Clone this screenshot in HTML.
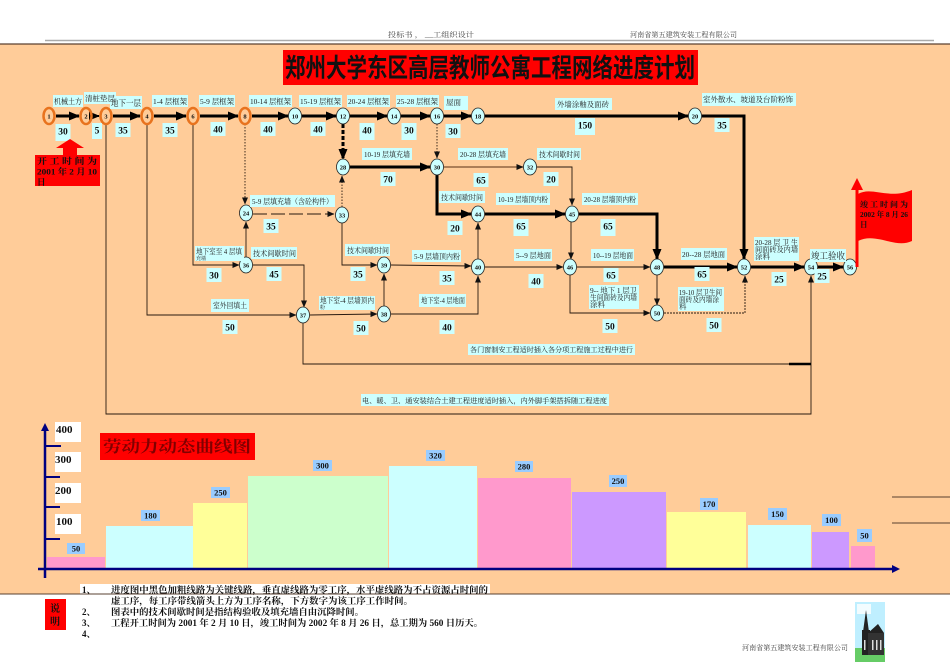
<!DOCTYPE html>
<html><head><meta charset="utf-8"><style>
html,body{margin:0;padding:0;background:#fff;}
svg{display:block;}
</style></head><body>
<svg width="950" height="672" viewBox="0 0 950 672" xmlns="http://www.w3.org/2000/svg">
<defs>
<marker id="A" markerUnits="userSpaceOnUse" markerWidth="11" markerHeight="9" refX="10" refY="4.5" orient="auto"><path d="M0,0L11,4.5L0,9z" fill="#000"/></marker>
<marker id="a" markerUnits="userSpaceOnUse" markerWidth="7" markerHeight="6" refX="6.5" refY="3" orient="auto"><path d="M0,0L7,3L0,6z" fill="#111"/></marker>
</defs>

<!-- header -->
<g font-family="'Liberation Serif','Noto Serif CJK SC',serif" font-size="7" fill="#444">
<text x="388" y="37" textLength="86" lengthAdjust="spacingAndGlyphs">投标书 ，  __工组织设计</text>
<text x="630" y="37" textLength="107" lengthAdjust="spacingAndGlyphs">河南省第五建筑安装工程有限公司</text>
</g>
<line x1="45" y1="40.5" x2="934" y2="40.5" stroke="#aaa" stroke-width="1.5"/>

<!-- orange area -->
<rect x="0" y="44" width="950" height="550" fill="#FFCC99"/>
<line x1="0" y1="44" x2="950" y2="44" stroke="#5a4030" stroke-width="1.2"/>

<!-- title -->
<rect x="283" y="50" width="415" height="35" fill="#FF0000"/>
<text transform="matrix(1,0,0,1.3,0,-23)" x="285" y="77" font-family="'Noto Sans CJK SC','WenQuanYi Zen Hei',sans-serif" font-weight="bold" font-size="20" fill="#111" textLength="410" lengthAdjust="spacingAndGlyphs">郑州大学东区高层教师公寓工程网络进度计划</text>

<!-- ===== thin lines ===== -->
<g fill="none" stroke="#2a1a10" stroke-width="0.9">
<polyline points="106,124 106,414 811,414 811,276" marker-end="url(#a)"/>
<polyline points="303,323 303,364 811,364"/>
<polyline points="147,124 147,315 296,315" marker-end="url(#a)"/>
<polyline points="193,124 193,265 239,265" marker-end="url(#a)"/>
<line x1="246" y1="257" x2="246" y2="222" marker-end="url(#a)"/>
<polyline points="253,265 304,265 304,307" marker-end="url(#a)"/>
<polyline points="342,223 342,265 377,265" marker-end="url(#a)"/>
<line x1="310" y1="315" x2="377" y2="314" marker-end="url(#a)"/>
<line x1="384" y1="306" x2="384" y2="274" marker-end="url(#a)"/>
<polyline points="391,314 478,314 478,276" marker-end="url(#a)"/>
<line x1="391" y1="265" x2="471" y2="266" marker-end="url(#a)"/>
<line x1="478" y1="259" x2="478" y2="223" marker-end="url(#a)"/>
<line x1="485" y1="267" x2="563" y2="267" marker-end="url(#a)"/>
<line x1="571" y1="222" x2="571" y2="259" marker-end="url(#a)"/>
<line x1="577" y1="267" x2="650" y2="267" marker-end="url(#a)"/>
<polyline points="570,275 570,313 650,313" marker-end="url(#a)"/>
<line x1="657" y1="275" x2="657" y2="305" marker-end="url(#a)"/>
<polyline points="664,313 745,313 745,276" marker-end="url(#a)" stroke-dasharray="2,1"/>
<line x1="444" y1="167" x2="523" y2="167" stroke="#7a5030" stroke-width="1.2" marker-end="url(#a)"/>
<polyline points="537,167 572,167 572,205" marker-end="url(#a)"/>
</g>
<g fill="none" stroke="#2a1a10" stroke-width="0.9">
<line x1="245" y1="124" x2="245" y2="204" stroke-dasharray="1.5,1.5" marker-end="url(#a)"/>
<line x1="437" y1="124" x2="437" y2="158" stroke-dasharray="1.5,1.5" marker-end="url(#a)"/>
<line x1="342" y1="207" x2="342" y2="176" stroke-dasharray="1.5,1.5" marker-end="url(#a)"/>
<line x1="253" y1="214" x2="334" y2="214" stroke-dasharray="14,4" marker-end="url(#a)"/>
</g>
<line x1="789" y1="364" x2="811" y2="364" stroke="#000" stroke-width="2.5"/>

<!-- ===== thick lines ===== -->
<g fill="none" stroke="#000" stroke-width="3">
<line x1="56" y1="116" x2="79" y2="116" marker-end="url(#A)"/>
<line x1="93" y1="116" x2="99" y2="116" stroke-width="2" marker-end="url(#A)"/>
<line x1="113" y1="116" x2="140" y2="116" marker-end="url(#A)"/>
<line x1="154" y1="116" x2="186" y2="116" marker-end="url(#A)"/>
<line x1="200" y1="116" x2="238" y2="116" marker-end="url(#A)"/>
<line x1="252" y1="116" x2="288" y2="116" marker-end="url(#A)"/>
<line x1="302" y1="116" x2="336" y2="116" marker-end="url(#A)"/>
<line x1="350" y1="116" x2="387" y2="116" marker-end="url(#A)"/>
<line x1="401" y1="116" x2="430" y2="116" marker-end="url(#A)"/>
<line x1="444" y1="116" x2="471" y2="116" marker-end="url(#A)"/>
<line x1="485" y1="116" x2="688" y2="116" marker-end="url(#A)"/>
<polyline points="702,116 744,116 744,259" marker-end="url(#A)"/>
<line x1="343" y1="124" x2="343" y2="159" stroke-dasharray="4,2" marker-end="url(#A)"/>
<line x1="350" y1="167" x2="430" y2="167" marker-end="url(#A)"/>
<polyline points="437,175 437,214 471,214" marker-end="url(#A)"/>
<line x1="485" y1="214" x2="565" y2="214" marker-end="url(#A)"/>
<polyline points="579,214 657,214 657,259" marker-end="url(#A)"/>
<line x1="664" y1="267" x2="737" y2="267" marker-end="url(#A)"/>
<line x1="751" y1="267" x2="804" y2="267" marker-end="url(#A)"/>
<line x1="818" y1="267" x2="843" y2="267" marker-end="url(#A)"/>
</g>

<!-- ===== nodes ===== -->
<g font-family="'Liberation Serif',serif" font-weight="bold" font-size="6.5" text-anchor="middle" fill="#111">
<g fill="none" stroke="#E8731E" stroke-width="2.5">
<ellipse cx="49" cy="116" rx="5.5" ry="8"/>
<ellipse cx="86" cy="116" rx="5.5" ry="8"/>
<ellipse cx="106" cy="116" rx="5.5" ry="8"/>
<ellipse cx="147" cy="116" rx="5.5" ry="8"/>
<ellipse cx="193" cy="116" rx="5.5" ry="8"/>
<ellipse cx="245" cy="116" rx="5.5" ry="8"/>
</g>
<text x="49" y="118.5">1</text><text x="86" y="118.5">2</text><text x="106" y="118.5">3</text>
<text x="147" y="118.5">4</text><text x="193" y="118.5">6</text><text x="245" y="118.5">8</text>
<g fill="#CCFFFF" stroke="#222" stroke-width="0.8">
<ellipse cx="295" cy="116" rx="6.5" ry="8"/>
<ellipse cx="343" cy="116" rx="6.5" ry="8"/>
<ellipse cx="394" cy="116" rx="6.5" ry="8"/>
<ellipse cx="437" cy="116" rx="6.5" ry="8"/>
<ellipse cx="478" cy="116" rx="6.5" ry="8"/>
<ellipse cx="695" cy="116" rx="6.5" ry="8"/>
<ellipse cx="343" cy="167" rx="6.5" ry="8"/>
<ellipse cx="437" cy="167" rx="6.5" ry="8"/>
<ellipse cx="530" cy="167" rx="6.5" ry="8"/>
<ellipse cx="246" cy="213" rx="6.5" ry="8"/>
<ellipse cx="342" cy="215" rx="6.5" ry="8"/>
<ellipse cx="478" cy="214" rx="6.5" ry="8"/>
<ellipse cx="572" cy="214" rx="6.5" ry="8"/>
<ellipse cx="246" cy="265" rx="6.5" ry="8"/>
<ellipse cx="384" cy="265" rx="6.5" ry="8"/>
<ellipse cx="478" cy="267" rx="6.5" ry="8"/>
<ellipse cx="570" cy="267" rx="6.5" ry="8"/>
<ellipse cx="657" cy="267" rx="6.5" ry="8"/>
<ellipse cx="744" cy="267" rx="6.5" ry="8"/>
<ellipse cx="811" cy="267" rx="6.5" ry="8"/>
<ellipse cx="850" cy="267" rx="6.5" ry="8"/>
<ellipse cx="303" cy="315" rx="6.5" ry="8"/>
<ellipse cx="384" cy="314" rx="6.5" ry="8"/>
<ellipse cx="657" cy="313" rx="6.5" ry="8"/>
</g>
<text x="295" y="118.3">10</text><text x="343" y="118.3">12</text><text x="394" y="118.3">14</text>
<text x="437" y="118.3">16</text><text x="478" y="118.3">18</text><text x="695" y="118.3">20</text>
<text x="343" y="169.3">28</text><text x="437" y="169.3">30</text><text x="530" y="169.3">32</text>
<text x="246" y="215.3">24</text><text x="342" y="217.3">33</text><text x="478" y="216.3">44</text><text x="572" y="216.3">45</text>
<text x="246" y="267.3">36</text><text x="384" y="267.3">39</text><text x="478" y="269.3">40</text>
<text x="570" y="269.3">46</text><text x="657" y="269.3">48</text><text x="744" y="269.3">52</text>
<text x="811" y="269.3">54</text><text x="850" y="269.3">56</text>
<text x="303" y="317.3">37</text><text x="384" y="316.3">38</text><text x="657" y="315.3">50</text>
</g>

<!-- ===== activity labels ===== -->
<g font-family="'Liberation Serif','Noto Serif CJK SC',serif" font-size="7.5" fill="#222">
<g fill="#CCFFFF">
<rect x="53" y="95" width="30" height="12"/>
<rect x="84" y="92" width="32" height="12"/>
<rect x="110" y="96" width="32" height="13"/>
<rect x="152" y="95" width="36" height="12"/>
<rect x="199" y="95" width="36" height="12"/>
<rect x="249" y="95" width="43" height="12"/>
<rect x="299" y="95" width="43" height="12"/>
<rect x="347" y="95" width="43" height="12"/>
<rect x="396" y="95" width="43" height="12"/>
<rect x="444" y="96" width="24" height="14"/>
<rect x="555" y="98" width="57" height="12"/>
<rect x="702" y="93" width="94" height="13"/>
<rect x="362" y="148" width="50" height="12"/>
<rect x="458" y="148" width="50" height="12"/>
<rect x="537" y="148" width="44" height="12"/>
<rect x="439" y="191" width="46" height="12"/>
<rect x="496" y="193" width="54" height="12"/>
<rect x="582" y="193" width="56" height="12"/>
<rect x="250" y="195" width="85" height="12"/>
<rect x="195" y="246" width="49" height="15"/>
<rect x="251" y="247" width="46" height="12"/>
<rect x="345" y="244" width="45" height="12"/>
<rect x="412" y="250" width="49" height="12"/>
<rect x="514" y="249" width="38" height="12"/>
<rect x="591" y="249" width="43" height="12"/>
<rect x="681" y="248" width="46" height="12"/>
<rect x="754" y="237" width="45" height="24"/>
<rect x="810" y="249" width="36" height="13"/>
<rect x="589" y="285" width="50" height="24"/>
<rect x="678" y="287" width="46" height="24"/>
<rect x="211" y="299" width="38" height="13"/>
<rect x="319" y="296" width="56" height="14"/>
<rect x="419" y="294" width="47" height="13"/>
<rect x="468" y="344" width="167" height="11"/>
<rect x="361" y="394" width="248" height="12"/>
</g>
<text x="54" y="104" textLength="28" lengthAdjust="spacingAndGlyphs">机械土方</text>
<text x="85" y="101" textLength="30" lengthAdjust="spacingAndGlyphs">清桩垫层</text>
<text x="111" y="106" font-size="8.5" textLength="30" lengthAdjust="spacingAndGlyphs">地下一层</text>
<text x="153" y="104" textLength="34" lengthAdjust="spacingAndGlyphs">1-4 层框架</text>
<text x="200" y="104" textLength="34" lengthAdjust="spacingAndGlyphs">5-9 层框架</text>
<text x="250" y="104" textLength="41" lengthAdjust="spacingAndGlyphs">10-14 层框架</text>
<text x="300" y="104" textLength="41" lengthAdjust="spacingAndGlyphs">15-19 层框架</text>
<text x="348" y="104" textLength="41" lengthAdjust="spacingAndGlyphs">20-24 层框架</text>
<text x="397" y="104" textLength="41" lengthAdjust="spacingAndGlyphs">25-28 层框架</text>
<text x="446" y="105" textLength="15" lengthAdjust="spacingAndGlyphs">屋面</text>
<text x="557" y="107" textLength="52" lengthAdjust="spacingAndGlyphs">外墙涂釉及面砖</text>
<text x="703" y="102" textLength="90" lengthAdjust="spacingAndGlyphs">室外散水、坡道及台阶粉饰</text>
<text x="364" y="157" textLength="46" lengthAdjust="spacingAndGlyphs">10-19 层填充墙</text>
<text x="460" y="157" textLength="46" lengthAdjust="spacingAndGlyphs">20-28 层填充墙</text>
<text x="539" y="157" textLength="41" lengthAdjust="spacingAndGlyphs">技术间歇时间</text>
<text x="441" y="200" textLength="42" lengthAdjust="spacingAndGlyphs">技术间歇时间</text>
<text x="498" y="202" textLength="50" lengthAdjust="spacingAndGlyphs">10-19 层墙顶内粉</text>
<text x="584" y="202" textLength="52" lengthAdjust="spacingAndGlyphs">20-28 层墙顶内粉</text>
<text x="252" y="204" textLength="81" lengthAdjust="spacingAndGlyphs">5-9 层填充墙（含砼构件）</text>
<text x="196" y="254" textLength="46" lengthAdjust="spacingAndGlyphs">地下室至 4 层填</text>
<text x="196" y="260" font-size="5" textLength="10" lengthAdjust="spacingAndGlyphs">充墙</text>
<text x="253" y="256" textLength="43" lengthAdjust="spacingAndGlyphs">技术间歇时间</text>
<text x="347" y="253" textLength="42" lengthAdjust="spacingAndGlyphs">技术间歇时间</text>
<text x="414" y="259" textLength="46" lengthAdjust="spacingAndGlyphs">5-9 层墙顶内粉</text>
<text x="516" y="258" textLength="35" lengthAdjust="spacingAndGlyphs">5--9 层地面</text>
<text x="593" y="258" textLength="40" lengthAdjust="spacingAndGlyphs">10--19 层地面</text>
<text x="682" y="257" textLength="43" lengthAdjust="spacingAndGlyphs">20--28 层地面</text>
<text x="755" y="245" textLength="43" lengthAdjust="spacingAndGlyphs">20-28 层 卫 生</text>
<text x="755" y="252" textLength="43" lengthAdjust="spacingAndGlyphs">间面砖及内墙</text>
<text x="755" y="259">涂料</text>
<text x="811" y="259" font-size="9" textLength="34" lengthAdjust="spacingAndGlyphs">竣工验收</text>
<text x="590" y="293" textLength="47" lengthAdjust="spacingAndGlyphs">9-- 地下 1 层卫</text>
<text x="590" y="300" textLength="47" lengthAdjust="spacingAndGlyphs">生间面砖及内墙</text>
<text x="590" y="307">涂料</text>
<text x="679" y="295" textLength="43" lengthAdjust="spacingAndGlyphs">19-10 层卫生间</text>
<text x="679" y="302" textLength="40" lengthAdjust="spacingAndGlyphs">面砖及内墙涂</text>
<text x="679" y="309">料</text>
<text x="213" y="308" textLength="34" lengthAdjust="spacingAndGlyphs">室外回填土</text>
<text x="320" y="303" textLength="54" lengthAdjust="spacingAndGlyphs">地下室-4 层墙顶内</text>
<text x="320" y="309" font-size="5">粉</text>
<text x="421" y="303" textLength="44" lengthAdjust="spacingAndGlyphs">地下室-4 层地面</text>
<text x="470" y="352" font-size="7" textLength="163" lengthAdjust="spacingAndGlyphs">各门窗制安工程适时插入各分项工程施工过程中进行</text>
<text x="362" y="403" font-size="7" textLength="245" lengthAdjust="spacingAndGlyphs">电、暖、卫、通安装结合土建工程进度适时插入，内外脚手架搭拆随工程进度</text>
</g>

<!-- ===== durations ===== -->
<g font-family="'Liberation Serif',serif" font-weight="bold" font-size="9.5" text-anchor="middle" fill="#111">
<g fill="#CCFFFF">
<rect x="55.5" y="124" width="15" height="17"/>
<rect x="92" y="123" width="10" height="16"/>
<rect x="115.5" y="123" width="15" height="14"/>
<rect x="162.5" y="123" width="15" height="14"/>
<rect x="210.5" y="122" width="15" height="14"/>
<rect x="260.5" y="122" width="15" height="14"/>
<rect x="310.5" y="122" width="15" height="14"/>
<rect x="359.5" y="123" width="15" height="17"/>
<rect x="401.5" y="123" width="15" height="17"/>
<rect x="445.5" y="124" width="15" height="14"/>
<rect x="575" y="118" width="20" height="17"/>
<rect x="714.5" y="118" width="15" height="14"/>
<rect x="380.5" y="172" width="15" height="14"/>
<rect x="473.5" y="173" width="15" height="14"/>
<rect x="543.5" y="172" width="15" height="14"/>
<rect x="447.5" y="221" width="15" height="14"/>
<rect x="513.5" y="219" width="15" height="17"/>
<rect x="600.5" y="219" width="15" height="17"/>
<rect x="263.5" y="219" width="15" height="14"/>
<rect x="206.5" y="268" width="15" height="14"/>
<rect x="266.5" y="267" width="15" height="14"/>
<rect x="350.5" y="267" width="15" height="14"/>
<rect x="439.5" y="271" width="15" height="14"/>
<rect x="528.5" y="274" width="15" height="14"/>
<rect x="603.5" y="268" width="15" height="14"/>
<rect x="694.5" y="267" width="15" height="14"/>
<rect x="771.5" y="272" width="15" height="14"/>
<rect x="814.5" y="269" width="15" height="14"/>
<rect x="222.5" y="320" width="15" height="14"/>
<rect x="353.5" y="321" width="15" height="14"/>
<rect x="439.5" y="320" width="15" height="14"/>
<rect x="602.5" y="319" width="15" height="14"/>
<rect x="706.5" y="318" width="15" height="14"/>
</g>
<text x="63" y="134.5">30</text>
<text x="97" y="133.5">5</text>
<text x="123" y="133.5">35</text>
<text x="170" y="133.5">35</text>
<text x="218" y="132.5">40</text>
<text x="268" y="132.5">40</text>
<text x="318" y="132.5">40</text>
<text x="367" y="133.5">40</text>
<text x="409" y="133.5">30</text>
<text x="453" y="134.5">30</text>
<text x="585" y="128.5">150</text>
<text x="722" y="128.5">35</text>
<text x="388" y="182.5">70</text>
<text x="481" y="183.5">65</text>
<text x="551" y="182.5">20</text>
<text x="455" y="231.5">20</text>
<text x="521" y="229.5">65</text>
<text x="608" y="229.5">65</text>
<text x="271" y="229.5">35</text>
<text x="214" y="278.5">30</text>
<text x="274" y="277.5">45</text>
<text x="358" y="277.5">35</text>
<text x="447" y="281.5">35</text>
<text x="536" y="284.5">40</text>
<text x="611" y="278.5">65</text>
<text x="702" y="277.5">65</text>
<text x="779" y="282.5">25</text>
<text x="822" y="279.5">25</text>
<text x="230" y="330.5">50</text>
<text x="361" y="331.5">50</text>
<text x="447" y="330.5">40</text>
<text x="610" y="329.5">50</text>
<text x="714" y="328.5">50</text>
</g>

<!-- start arrow + box -->
<polygon points="70,139 56,148 63,148 63,156 77,156 77,148 84,148" fill="#FF0000"/>
<rect x="35" y="155" width="65" height="31" fill="#FF0000"/>
<g font-family="'Liberation Serif','Noto Serif CJK SC',serif" font-weight="bold" font-size="8.5" fill="#111">
<text x="37" y="164" textLength="60" lengthAdjust="spacingAndGlyphs">开 工 时 间 为</text>
<text x="37" y="174.5" textLength="60" lengthAdjust="spacingAndGlyphs">2001 年 2 月 10</text>
<text x="37" y="185">日</text>
</g>

<!-- finish flag -->
<line x1="857" y1="267" x2="857" y2="188" stroke="#FF0000" stroke-width="3"/>
<polygon points="857,178 851,190 863,190" fill="#FF0000"/>
<path d="M858,194 C872,186 888,200 912,190 L912,241 C895,249 876,232 858,241 Z" fill="#FF0000"/>
<g font-family="'Liberation Serif','Noto Serif CJK SC',serif" font-weight="bold" font-size="7.5" fill="#111">
<text x="860" y="207" textLength="48" lengthAdjust="spacingAndGlyphs">竣 工 时 间 为</text>
<text x="860" y="217" textLength="48" lengthAdjust="spacingAndGlyphs">2002 年 8 月 26</text>
<text x="860" y="227">日</text>
</g>

<!-- ===== labour chart ===== -->
<g>
<rect x="47" y="557" width="58" height="12" fill="#FF99CC"/>
<rect x="106" y="526" width="87" height="43" fill="#CCFFFF"/>
<rect x="193" y="503" width="54" height="66" fill="#FFFF99"/>
<rect x="248" y="476" width="140" height="93" fill="#CCFFCC"/>
<rect x="389" y="466" width="88" height="103" fill="#CCFFFF"/>
<rect x="478" y="478" width="93" height="91" fill="#FF99CC"/>
<rect x="572" y="492" width="94" height="77" fill="#CC99FF"/>
<rect x="667" y="512" width="79" height="57" fill="#FFFF99"/>
<rect x="748" y="525" width="63" height="44" fill="#CCFFFF"/>
<rect x="812" y="532" width="37" height="37" fill="#CC99FF"/>
<rect x="851" y="546" width="24" height="23" fill="#FF99CC"/>
</g>
<g fill="#99CCFF">
<rect x="67" y="543" width="18" height="11"/>
<rect x="141" y="510" width="19" height="11"/>
<rect x="211" y="487" width="19" height="11"/>
<rect x="313" y="460" width="19" height="11"/>
<rect x="426" y="450" width="19" height="11"/>
<rect x="515" y="461" width="18" height="11"/>
<rect x="609" y="475" width="18" height="12"/>
<rect x="700" y="498" width="18" height="12"/>
<rect x="768" y="508" width="19" height="12"/>
<rect x="822" y="514" width="19" height="12"/>
<rect x="857" y="529" width="15" height="13"/>
</g>
<g font-family="'Liberation Serif',serif" font-weight="bold" font-size="8.5" text-anchor="middle" fill="#111">
<text x="76" y="551.5">50</text>
<text x="150.5" y="518.5">180</text>
<text x="220.5" y="495.5">250</text>
<text x="322.5" y="468.5">300</text>
<text x="435.5" y="458.5">320</text>
<text x="524" y="469.5">280</text>
<text x="618" y="484">250</text>
<text x="709" y="507">170</text>
<text x="777.5" y="517">150</text>
<text x="831.5" y="523">100</text>
<text x="864.5" y="538.5">50</text>
</g>
<line x1="38" y1="569" x2="893" y2="569" stroke="#000080" stroke-width="2.5"/>
<polygon points="900,569 892,565 892,573" fill="#000080"/>
<line x1="45" y1="578" x2="45" y2="430" stroke="#000080" stroke-width="2.5"/>
<polygon points="45,423 41,431 49,431" fill="#000080"/>
<g stroke="#000080" stroke-width="2">
<line x1="45" y1="446" x2="61" y2="446"/>
<line x1="45" y1="477" x2="60" y2="477"/>
<line x1="45" y1="507" x2="60" y2="507"/>
<line x1="45" y1="539" x2="60" y2="539"/>
</g>
<g fill="#fff">
<rect x="55" y="422" width="26" height="20"/>
<rect x="55" y="452" width="26" height="20"/>
<rect x="55" y="483" width="26" height="20"/>
<rect x="55" y="514" width="26" height="20"/>
</g>
<g font-family="'Liberation Serif',serif" font-weight="bold" font-size="11" fill="#111">
<text x="56" y="433">400</text>
<text x="55" y="463">300</text>
<text x="55" y="494">200</text>
<text x="56" y="525">100</text>
</g>
<rect x="100" y="433" width="155" height="27" fill="#FF0000"/>
<text x="103" y="452" font-family="'Noto Serif CJK SC','Liberation Serif',serif" font-weight="bold" font-size="16" fill="#800000" textLength="148" lengthAdjust="spacingAndGlyphs">劳动力动态曲线图</text>
<line x1="892" y1="497" x2="950" y2="497" stroke="#5a4030" stroke-width="1"/>
<line x1="892" y1="523" x2="950" y2="523" stroke="#5a4030" stroke-width="1"/>

<!-- ===== notes ===== -->
<rect x="80" y="584" width="410" height="10" fill="#fff"/>
<line x1="0" y1="594" x2="950" y2="594" stroke="#5a4030" stroke-width="1"/>
<rect x="45" y="599" width="21" height="31" fill="#FF0000"/>
<g font-family="'Liberation Serif','Noto Serif CJK SC',serif" font-weight="bold" font-size="10" fill="#111">
<text x="50" y="612">说</text>
<text x="50" y="625">明</text>
</g>
<g font-family="'Liberation Serif','Noto Serif CJK SC',serif" font-size="9" fill="#111" font-weight="bold">
<text x="82" y="593">1、</text>
<text x="111" y="593" textLength="377" lengthAdjust="spacingAndGlyphs">进度图中黑色加粗线路为关键线路，垂直虚线路为零工序，水平虚线路为不占资源占时间的</text>
<text x="111" y="604" textLength="302" lengthAdjust="spacingAndGlyphs">虚工序，每工序带线箭头上方为工序名称，下方数字为该工序工作时间。</text>
<text x="82" y="615">2、</text>
<text x="111" y="615" textLength="253" lengthAdjust="spacingAndGlyphs">图表中的技术间歇时间是指结构验收及填充墙自由沉降时间。</text>
<text x="82" y="626">3、</text>
<text x="111" y="626" textLength="372" lengthAdjust="spacingAndGlyphs">工程开工时间为 2001 年 2 月 10 日，竣工时间为 2002 年 8 月 26 日，总工期为 560 日历天。</text>
<text x="82" y="637">4、</text>
</g>
<text x="742" y="650" font-family="'Liberation Serif','Noto Serif CJK SC',serif" font-size="7" fill="#444" textLength="106" lengthAdjust="spacingAndGlyphs">河南省第五建筑安装工程有限公司</text>

<!-- church picture -->
<rect x="855" y="602" width="30" height="60" fill="#BFEFFF"/>
<rect x="857" y="604" width="14" height="10" fill="#fff" opacity="0.8"/>
<rect x="855" y="648" width="30" height="14" fill="#66CC66"/>
<polygon points="866,610 863,632 869,632" fill="#222"/>
<rect x="862" y="630" width="8" height="25" fill="#222"/>
<polygon points="868,633 884,633 884,655 868,655" fill="#333"/>
<polygon points="868,633 878,624 884,633" fill="#222"/>
<g fill="#ddd">
<rect x="864" y="640" width="1.5" height="10"/>
<rect x="872" y="640" width="1.5" height="10"/>
<rect x="876" y="640" width="1.5" height="10"/>
<rect x="880" y="640" width="1.5" height="10"/>
</g>
</svg>
</body></html>
